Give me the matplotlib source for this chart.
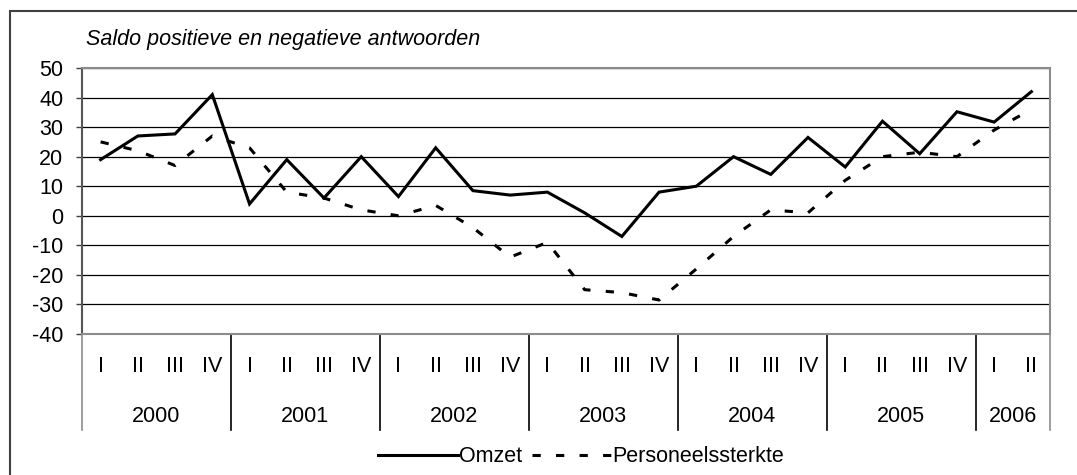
import matplotlib
matplotlib.use("Agg")
import matplotlib.pyplot as plt
from matplotlib.lines import Line2D
from matplotlib.patches import Rectangle

plt.rcParams['font.family'] = ['Liberation Sans', 'DejaVu Sans']
plt.rcParams['axes.unicode_minus'] = False

# data
years = ['2000', '2001', '2002', '2003', '2004', '2005', '2006']
quarters_per_year = [4, 4, 4, 4, 4, 4, 2]
quarter_names = ['I', 'II', 'III', 'IV']
omzet = [19, 27, 27.7, 41, 4, 19, 6, 20, 6.5, 23, 8.5, 7,
         8, 1, -7, 8, 10, 20, 14, 26.5, 16.5, 32, 21, 35.2, 31.7, 42]
personeel = [25, 22, 17, 27, 23, 8, 6, 2, 0, 3.5, -4, -14,
             -9, -25, -26, -28.5, -18, -7, 2, 1, 12, 20, 21.5, 20, 29, 36]

FS = 15.5
W, H = 1077, 475
fig = plt.figure(figsize=(W / 100, H / 100), dpi=100)
ax = fig.add_axes([82 / W, (H - 334) / H, 968 / W, 266 / H])

x = list(range(len(omzet)))
ax.plot(x, omzet, color='black', lw=2.2, solid_joinstyle='miter', label='Omzet')
ax.plot(x, personeel, color='black', lw=2.2, dashes=(2.7, 5),
        dash_capstyle='butt', label='Personeelssterkte')

ax.set_xlim(-0.5, len(omzet) - 0.5)
ax.set_ylim(-40, 50)
ax.set_yticks(range(-40, 51, 10))
ax.yaxis.grid(True, color='black', lw=0.9)
ax.set_axisbelow(True)
ax.tick_params(axis='y', direction='out', length=4.5, width=1, color='#404040',
               pad=9, labelsize=FS)
ax.set_xticks([])
for side in ['top', 'right', 'bottom']:
    ax.spines[side].set_color('#8c8c8c')
    ax.spines[side].set_linewidth(1.5)
ax.spines['left'].set_color('#555555')
ax.spines['left'].set_linewidth(1.5)

# category axis: quarters, years and separators
tr = ax.get_xaxis_transform()
drop = 96 / 266
pos = 0
for yr, n in zip(years, quarters_per_year):
    for q in range(n):
        ax.text(pos + q, -32 / 266, quarter_names[q], transform=tr,
                ha='center', va='center', fontsize=FS)
    ax.text(pos + (n - 1) / 2, -83 / 266, yr, transform=tr,
            ha='center', va='center', fontsize=FS)
    col = '#8c8c8c' if pos == 0 else 'black'
    ax.plot([pos - 0.5, pos - 0.5], [0, -drop], transform=tr, color=col,
            lw=1.2, clip_on=False)
    pos += n
ax.plot([pos - 0.5, pos - 0.5], [0, -drop], transform=tr, color='#8c8c8c',
        lw=1.2, clip_on=False)

fig.text(86 / W, 1 - 45 / H, 'Saldo positieve en negatieve antwoorden',
         style='italic', fontsize=FS, va='baseline', ha='left')

handles = [Line2D([], [], color='black', lw=2.2),
           Line2D([], [], color='black', lw=2.2, dashes=(2.7, 5))]
fig.legend(handles, ['Omzet', 'Personeelssterkte'], loc='center',
           bbox_to_anchor=(581 / W, 1 - 457 / H), ncol=2, frameon=False,
           fontsize=FS, handlelength=3.7, handletextpad=0.05,
           columnspacing=0.45, borderpad=0)

fig.add_artist(Rectangle((10 / W, -0.1), 2, (H - 11) / H + 0.1,
                         transform=fig.transFigure, fill=False,
                         ec='#404040', lw=1.5))

fig.savefig('out.png', dpi=100)
